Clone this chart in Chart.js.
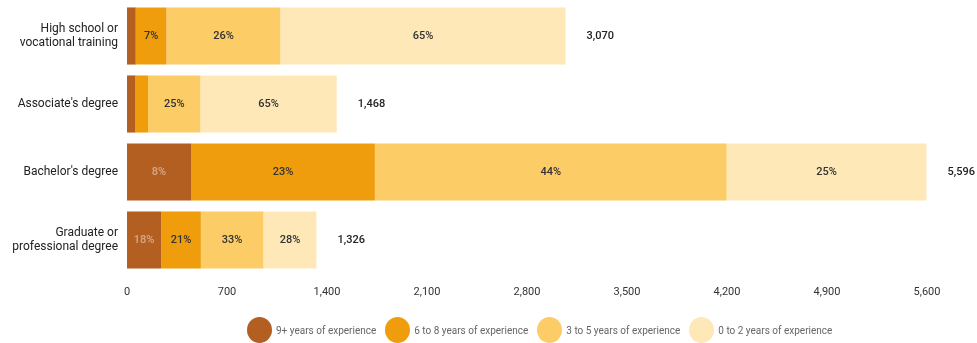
<!DOCTYPE html>
<html lang="en">
<head>
    <meta charset="UTF-8">
    <title>Experience by education level</title>
    <script src="https://cdn.jsdelivr.net/npm/chart.js"></script>
    <style>
        body { margin: 0; background: #fff; font-family: Roboto, Arial, sans-serif; }
        #wrap { position: relative; width: 977px; height: 343px; }
        #legend { position: absolute; left: 247px; top: 317px; display: flex; align-items: center; }
        .item { display: flex; align-items: center; margin-right: 9px; font-size: 10px; color: #666; }
        .dot { width: 25px; height: 26px; border-radius: 50%; margin-right: 4px; }
    </style>
</head>
<body>
    <div id="wrap">
        <canvas id="chart" width="977" height="343"></canvas>
        <div id="legend"></div>
    </div>

    <script>
        const categories = [
            ['High school or', 'vocational training'],
            "Associate's degree",
            "Bachelor's degree",
            ['Graduate or', 'professional degree']
        ];
        const seriesNames = ['9+ years of experience', '6 to 8 years of experience', '3 to 5 years of experience', '0 to 2 years of experience'];
        const seriesColors = ['#b35f22', '#ef9d0c', '#fccc66', '#fee8b7'];

        const years9plus = [61, 59, 448, 239];
        const years6to8 = [215, 88, 1287, 278];
        const years3to5 = [798, 367, 2462, 438];
        const years0to2 = [1996, 954, 1399, 371];

        const xTicks = [0, 700, 1400, 2100, 2800, 3500, 4200, 4900, 5600];

        const series = [years9plus, years6to8, years3to5, years0to2];
        const totals = categories.map((c, j) => series.reduce((s, arr) => s + arr[j], 0));

        // percent inside each segment, total at the end of each bar
        const barLabels = {
            id: 'barLabels',
            afterDatasetsDraw(chart) {
                const ctx = chart.ctx;
                ctx.save();
                ctx.font = '500 11px Roboto';
                ctx.textBaseline = 'middle';
                chart.data.datasets.forEach((ds, i) => {
                    chart.getDatasetMeta(i).data.forEach((bar, j) => {
                        const w = Math.abs(bar.x - bar.base);
                        if (w < 20) return;
                        const pct = Math.round(ds.data[j] / totals[j] * 100);
                        ctx.textAlign = 'center';
                        ctx.fillStyle = i === 0 ? 'rgba(255,255,255,0.45)' : '#333';
                        ctx.fillText(pct + '%', (bar.x + bar.base) / 2, bar.y);
                    });
                });
                const last = chart.getDatasetMeta(series.length - 1);
                last.data.forEach((bar, j) => {
                    ctx.textAlign = 'left';
                    ctx.fillStyle = '#222';
                    ctx.fillText(totals[j].toLocaleString('en-US'), bar.x + 21, bar.y);
                });
                ctx.restore();
            }
        };

        new Chart(document.getElementById('chart'), {
            type: 'bar',
            data: {
                labels: categories,
                datasets: series.map((data, i) => ({
                    label: seriesNames[i],
                    data: data,
                    backgroundColor: seriesColors[i],
                    borderWidth: 0,
                    categoryPercentage: 1,
                    barPercentage: 0.84
                }))
            },
            options: {
                indexAxis: 'y',
                responsive: false,
                animation: false,
                layout: { padding: { top: 2, right: 50, left: 0, bottom: 0 } },
                plugins: {
                    legend: { display: false },
                    tooltip: { enabled: false }
                },
                scales: {
                    x: {
                        stacked: true,
                        min: 0,
                        max: 5600,
                        afterBuildTicks: s => { s.ticks = xTicks.map(v => ({ value: v })); },
                        afterFit: s => { s.height = 69; },
                        grid: { display: false, drawTicks: false },
                        border: { display: false },
                        ticks: {
                            padding: 12,
                            color: '#333',
                            font: { family: '"Liberation Sans Narrow", Roboto', size: 11 },
                            callback: v => v.toLocaleString('en-US')
                        }
                    },
                    y: {
                        stacked: true,
                        afterFit: s => {
                            s.width = 127;
                            // multi-line labels would otherwise push the plot down
                            s.paddingTop = 0;
                            s.paddingBottom = 0;
                        },
                        grid: { display: false, drawTicks: false },
                        border: { display: false },
                        ticks: {
                            padding: 9,
                            color: '#222',
                            font: { family: 'Roboto', size: 12 }
                        }
                    }
                }
            },
            plugins: [barLabels]
        });

        const legend = document.getElementById('legend');
        seriesNames.forEach((name, i) => {
            legend.innerHTML += `<div class="item"><span class="dot" style="background:${seriesColors[i]}"></span>${name}</div>`;
        });
    </script>
</body>
</html>
